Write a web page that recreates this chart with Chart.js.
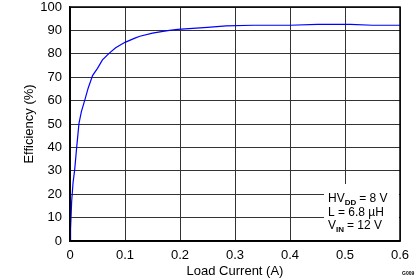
<!DOCTYPE html>
<html>
<head>
<meta charset="utf-8">
<script src="https://cdn.jsdelivr.net/npm/chart.js@4/dist/chart.umd.min.js"></script>
<style>
  html, body { margin: 0; padding: 0; background: #fff; }
  #wrap { width: 419px; height: 279px; position: relative; }
</style>
</head>
<body>
<div id="wrap"><canvas id="effChart" width="419" height="279"></canvas></div>
<script>
  // load current (A) vs efficiency (%)
  const current = [0, 0.001, 0.003, 0.0055, 0.0085, 0.012, 0.0164, 0.0207, 0.027, 0.033, 0.041, 0.05, 0.059, 0.071, 0.083, 0.1, 0.118, 0.127, 0.15, 0.169, 0.181, 0.196, 0.25, 0.284, 0.333, 0.4, 0.45, 0.5, 0.51, 0.55, 0.6];
  const efficiency = [0, 5, 16.9, 24.8, 30.4, 39.7, 50.4, 55.3, 60.3, 65.3, 70.7, 73.8, 77.4, 80.2, 82.6, 84.9, 86.7, 87.5, 88.8, 89.6, 90, 90.4, 91.3, 91.9, 92.2, 92.2, 92.6, 92.6, 92.6, 92.2, 92.2];
  const xTicks = [0, 0.1, 0.2, 0.3, 0.4, 0.5, 0.6];
  const yTicks = [0, 10, 20, 30, 40, 50, 60, 70, 80, 90, 100];

  const points = current.map(function(x, i) { return { x: x, y: efficiency[i] }; });

  const FONT = 'Liberation Sans, Arial, sans-serif';

  // white box with the test conditions, lower right
  const notePlugin = {
    id: 'notes',
    afterDatasetsDraw: function(chart) {
      const ctx = chart.ctx;
      const area = chart.chartArea;
      ctx.save();
      ctx.fillStyle = '#fff';
      ctx.fillRect(area.right - 76, area.bottom - 57, 75, 56);
      ctx.fillStyle = '#000';
      ctx.textBaseline = 'alphabetic';
      let x = area.right - 72;
      function sub(main, small, rest, y) {
        let cx = x;
        ctx.font = '12px ' + FONT;
        ctx.fillText(main, cx, y);
        cx += ctx.measureText(main).width;
        ctx.font = 'bold 8px ' + FONT;
        ctx.fillText(small, cx, y + 3);
        cx += ctx.measureText(small).width + 3;
        ctx.font = '12px ' + FONT;
        ctx.fillText(rest, cx, y);
      }
      sub('HV', 'DD', '= 8 V', area.bottom - 39);
      ctx.font = '12px ' + FONT;
      ctx.fillText('L = 6.8 µH', x, area.bottom - 25);
      sub('V', 'IN', '= 12 V', area.bottom - 12);
      ctx.font = 'bold 5px ' + FONT;
      ctx.fillText('G009', 402, 275);
      ctx.restore();
    }
  };

  const config = {
    type: 'line',
    data: {
      datasets: [{
        data: points,
        borderColor: '#0000ff',
        borderWidth: 1.2,
        pointRadius: 0,
        tension: 0,
        fill: false
      }]
    },
    options: {
      responsive: false,
      animation: false,
      layout: { padding: { left: 0, right: 19, top: 7, bottom: 0 } },
      plugins: {
        legend: { display: false },
        tooltip: { enabled: false }
      },
      scales: {
        x: {
          type: 'linear',
          min: 0,
          max: 0.6,
          afterBuildTicks: function(scale) { scale.ticks = xTicks.map(function(v) { return { value: v }; }); },
          ticks: {
            color: '#000',
            font: { family: FONT, size: 13 },
            padding: 7,
            maxRotation: 0,
            callback: function(v) { return String(v); }
          },
          grid: { color: '#333', lineWidth: 1, drawTicks: false },
          border: { color: '#000', width: 1.5 },
          title: {
            display: true,
            text: 'Load Current (A)',
            color: '#000',
            font: { family: FONT, size: 13 },
            padding: { top: 0, bottom: 0 }
          },
          afterFit: function(scale) { scale.height = 38; }
        },
        y: {
          min: 0,
          max: 100,
          afterBuildTicks: function(scale) { scale.ticks = yTicks.map(function(v) { return { value: v }; }); },
          ticks: {
            color: '#000',
            font: { family: FONT, size: 13 },
            padding: 8
          },
          grid: { color: '#333', lineWidth: 1, drawTicks: false },
          border: { color: '#000', width: 1.5 },
          title: {
            display: true,
            text: 'Efficiency (%)',
            color: '#000',
            font: { family: FONT, size: 13 },
            padding: { top: 22, bottom: 6 }
          },
          afterFit: function(scale) {
            scale.width = 70;
            scale.paddingTop = 0;
            scale.paddingBottom = 0;
          }
        }
      }
    },
    plugins: [notePlugin, {
      id: 'frame',
      afterDraw: function(chart) {
        const a = chart.chartArea;
        chart.ctx.save();
        chart.ctx.strokeStyle = '#000';
        chart.ctx.lineWidth = 1.5;
        chart.ctx.strokeRect(a.left, a.top, a.right - a.left, a.bottom - a.top);
        chart.ctx.restore();
      }
    }]
  };

  window.onload = function() {
    const ctx = document.getElementById('effChart').getContext('2d');
    new Chart(ctx, config);
  };
</script>
</body>
</html>
